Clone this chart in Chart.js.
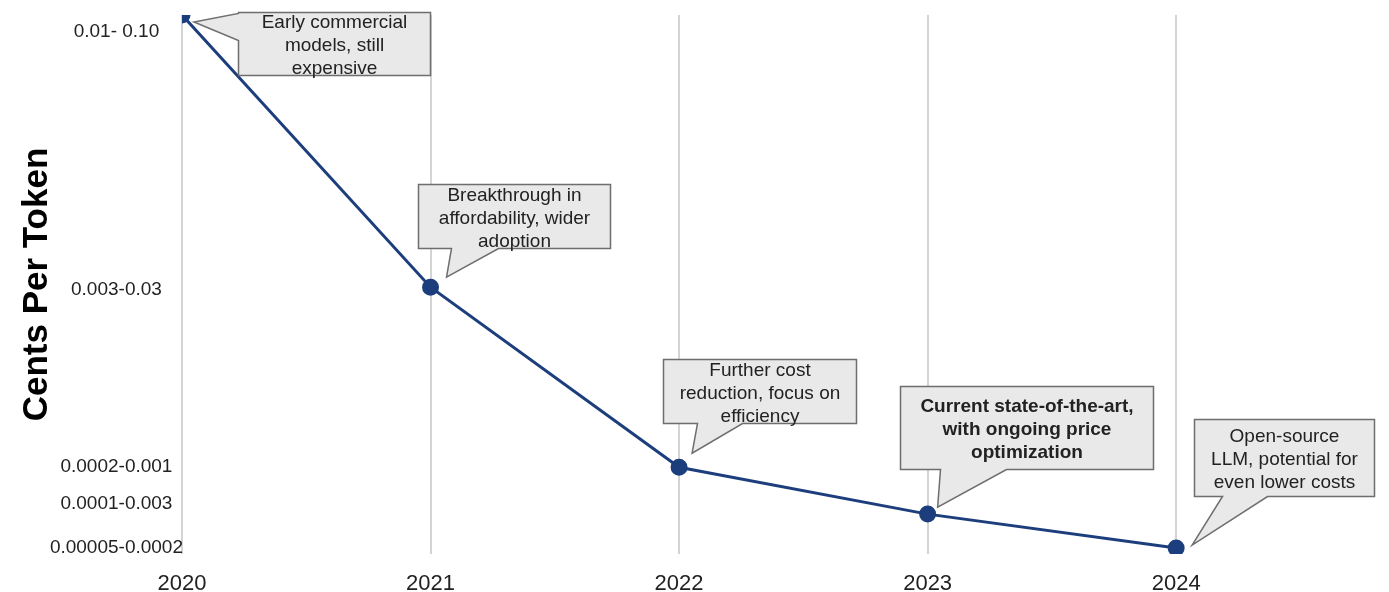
<!DOCTYPE html>
<html>
<head>
<meta charset="utf-8">
<script src="https://cdn.jsdelivr.net/npm/chart.js@4.4.0/dist/chart.umd.min.js"></script>
<style>
  html, body { margin: 0; padding: 0; background: #fff; }
  #wrap { width: 1389px; height: 592px; }
</style>
</head>
<body>
<div id="wrap"><canvas id="chart"></canvas></div>
<script>
const years = [2020, 2021, 2022, 2023, 2024];
// position on the (unscaled) cost axis, 100 = top of the chart
const costLevel = [100, 49.5, 16.1, 7.4, 1.1];
const tickLevels = [96.8, 49.1, 16.1, 9.4, 1.1];
const tickLabels = ['0.01- 0.10', '0.003-0.03', '0.0002-0.001', '0.0001-0.003', '0.00005-0.0002'];
const notes = [
  ['Early commercial', 'models, still', 'expensive'],
  ['Breakthrough in', 'affordability, wider', 'adoption'],
  ['Further cost', 'reduction, focus on', 'efficiency'],
  ['Current state-of-the-art,', 'with ongoing price', 'optimization'],
  ['Open-source', 'LLM, potential for', 'even lower costs'],
];
const noteBold = [false, false, false, true, false];

// bubble placement relative to its point (pixels)
const bubbles = [
  { dx: 56, dy: -3, w: 192, h: 63, side: 'left', b1: 1, b2: 28, tx: 12, ty: 7 },
  { dx: -13, dy: -103, w: 192, h: 64, side: 'bottom', b1: 33, b2: 80, tx: 16, ty: -10 },
  { dx: -16, dy: -108, w: 193, h: 64, side: 'bottom', b1: 34, b2: 79, tx: 13, ty: -14 },
  { dx: -28, dy: -128, w: 253, h: 83, side: 'bottom', b1: 40, b2: 106, tx: 10, ty: -7 },
  { dx: 18, dy: -129, w: 180, h: 77, side: 'bottom', b1: 28, b2: 73, tx: 16, ty: -3 },
];

const FONT = 'Arial, "Liberation Sans", sans-serif';

const calloutPlugin = {
  id: 'callouts',
  afterDatasetsDraw(chart) {
    const ctx = chart.ctx;
    const pts = chart.getDatasetMeta(0).data;
    ctx.save();
    notes.forEach((lines, i) => {
      const p = pts[i];
      const b = bubbles[i];
      const x = Math.round(p.x + b.dx) + 0.5;
      const y = Math.round(p.y + b.dy) + 0.5;
      const tipX = p.x + b.tx, tipY = p.y + b.ty;
      ctx.beginPath();
      ctx.moveTo(x, y);
      ctx.lineTo(x + b.w, y);
      ctx.lineTo(x + b.w, y + b.h);
      if (b.side === 'bottom') {
        ctx.lineTo(x + b.b2, y + b.h);
        ctx.lineTo(tipX, tipY);
        ctx.lineTo(x + b.b1, y + b.h);
        ctx.lineTo(x, y + b.h);
      } else {
        ctx.lineTo(x, y + b.h);
        ctx.lineTo(x, y + b.b2);
        ctx.lineTo(tipX, tipY);
        ctx.lineTo(x, y + b.b1);
      }
      ctx.closePath();
      ctx.fillStyle = '#e9e9e9';
      ctx.fill();
      ctx.strokeStyle = '#6e6e6e';
      ctx.lineWidth = 1.5;
      ctx.stroke();

      ctx.fillStyle = '#222';
      ctx.font = (noteBold[i] ? 'bold ' : '') + '19px ' + FONT;
      ctx.textAlign = 'center';
      ctx.textBaseline = 'middle';
      const lh = 23;
      const cy = y + b.h / 2 + 2 - (lines.length - 1) * lh / 2;
      lines.forEach((t, k) => ctx.fillText(t, x + b.w / 2, cy + k * lh));
    });
    ctx.restore();
  }
};

new Chart(document.getElementById('chart'), {
  type: 'line',
  plugins: [calloutPlugin],
  data: {
    datasets: [{
      data: years.map((yr, i) => ({ x: yr, y: costLevel[i] })),
      borderColor: '#1c3e7d',
      backgroundColor: '#1c3e7d',
      borderWidth: 3,
      pointRadius: 7,
      pointHoverRadius: 7,
      tension: 0,
    }],
  },
  options: {
    responsive: true,
    maintainAspectRatio: false,
    animation: false,
    layout: { padding: { top: 15, right: 14, bottom: 0, left: 0 } },
    plugins: { legend: { display: false }, tooltip: { enabled: false } },
    scales: {
      x: {
        type: 'linear',
        min: 2020,
        max: 2024.8,
        afterBuildTicks: (scale) => { scale.ticks = years.map(v => ({ value: v })); },
        afterFit: (scale) => { scale.height = 38; },
        ticks: {
          callback: (v) => String(v),
          color: '#222',
          padding: 19,
          font: { family: FONT, size: 22, lineHeight: 1 },
        },
        grid: { color: '#d4d4d4', lineWidth: 2, drawTicks: false },
        border: { display: false },
      },
      y: {
        min: 0,
        max: 100,
        afterBuildTicks: (scale) => { scale.ticks = tickLevels.map(v => ({ value: v })); },
        afterFit: (scale) => { scale.width = 182; },
        ticks: {
          callback: (v, i) => tickLabels[i],
          color: '#222',
          padding: -9,
          crossAlign: 'center',
          font: { family: FONT, size: 19 },
        },
        grid: { display: false },
        border: { display: false },
        title: {
          display: true,
          text: 'Cents Per Token',
          color: '#000',
          padding: { top: 16, bottom: 0 },
          font: { family: FONT, size: 35, weight: 'bold' },
        },
      },
    },
  },
});
</script>
</body>
</html>
